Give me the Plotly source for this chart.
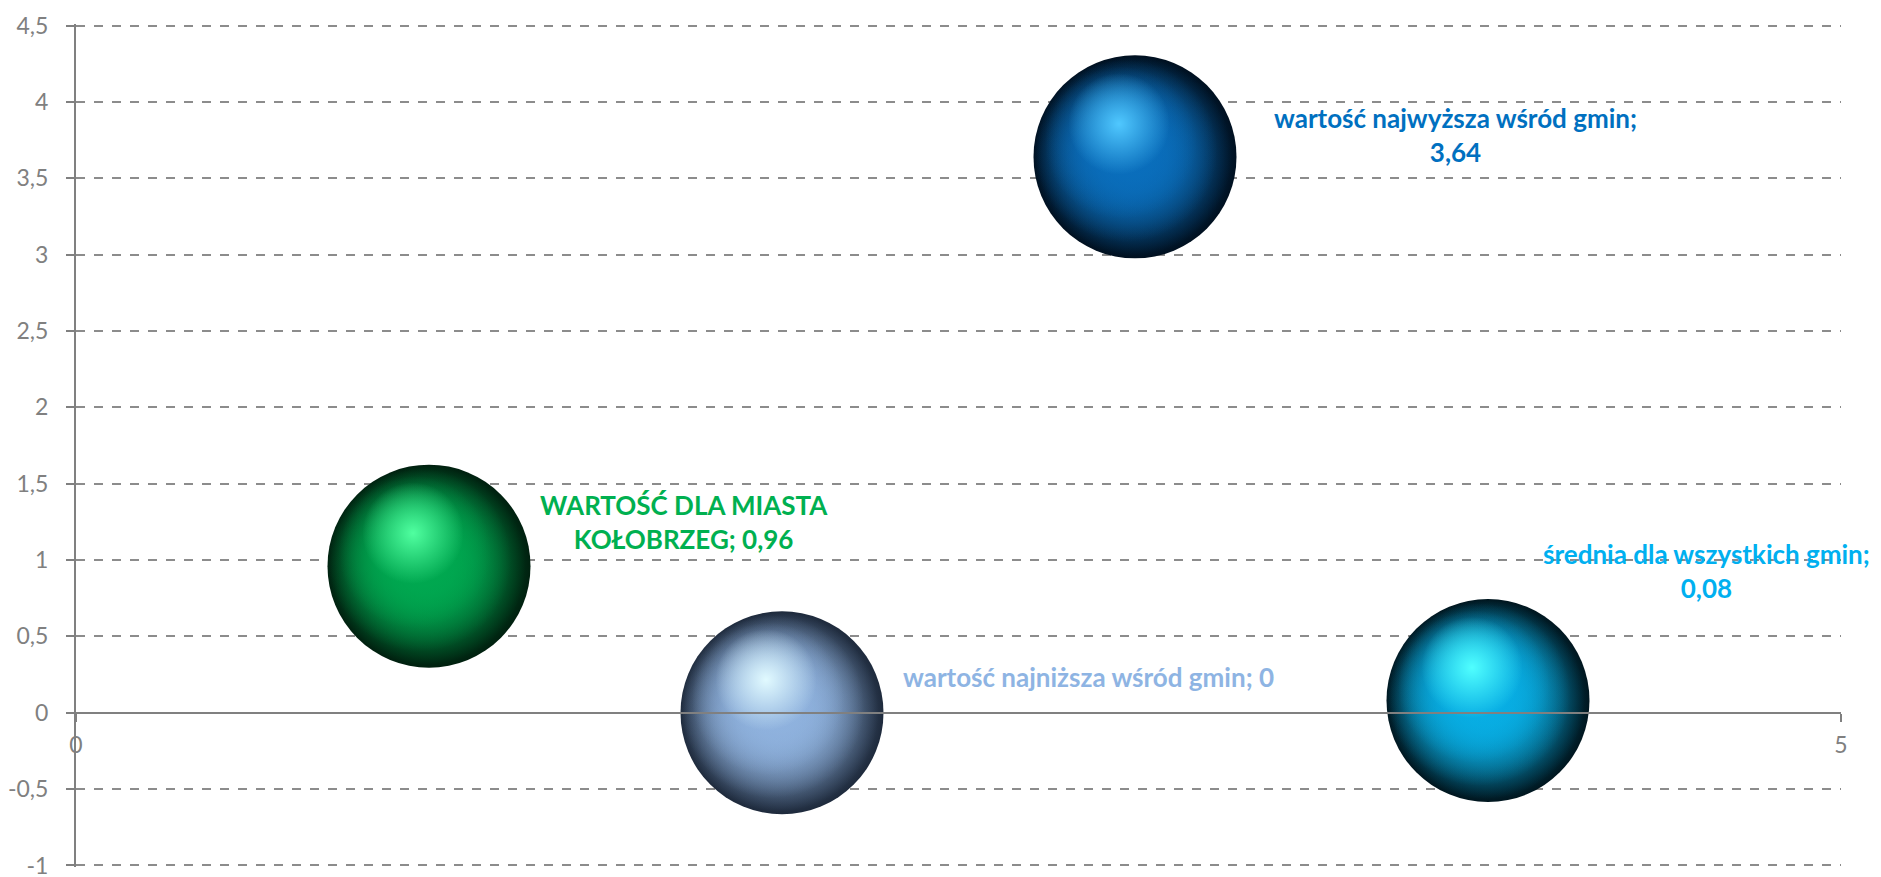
import plotly.graph_objects as go

# ---- data ----
series_names = ["WARTOŚĆ DLA MIASTA KOŁOBRZEG", "wartość najniższa wśród gmin",
                "wartość najwyższa wśród gmin", "średnia dla wszystkich gmin"]
x_vals = [1, 2, 3, 4]
y_vals = [0.96, 0.0, 3.64, 0.08]
bubble_sizes = [1, 1, 1, 1]
label_texts = ["WARTOŚĆ DLA MIASTA<br>KOŁOBRZEG; 0,96",
               "wartość najniższa wśród gmin; 0",
               "wartość najwyższa wśród gmin;<br>3,64",
               "średnia dla wszystkich gmin;<br>0,08"]
y_tick_vals = [-1, -0.5, 0, 0.5, 1, 1.5, 2, 2.5, 3, 3.5, 4, 4.5]
y_tick_labels = ["-1", "-0,5", "0", "0,5", "1", "1,5", "2", "2,5", "3", "3,5", "4", "4,5"]
x_tick_vals = [0, 5]
x_tick_labels = ["0", "5"]

# ---- styles ----
mid_rgb = [(0, 168, 80), (143, 178, 222), (10, 110, 188), (8, 174, 228)]
dark_colors = ["#00200F", "#1E2A3C", "#001020", "#00161F"]
light_rgb = [(80, 255, 160), (225, 250, 255), (80, 200, 255), (80, 255, 255)]
label_colors = ["#00B050", "#8EB4E3", "#0070C0", "#00B0F0"]
label_shift = [(255, 44), (306, 36), (320, 22), (218, 130)]


def rgba(c, a):
    return "rgba(%d,%d,%d,%s)" % (c[0], c[1], c[2], a)


# page body has an 8px default margin: figure is sized so the plot lands where the reference has it
W, H = 1873, 884
m_l, m_r, m_t, m_b = 68, 40, 16, 25
x_range = [0, 5]
y_range = [-1.01, 4.51]
px_x = (W - m_l - m_r) / (x_range[1] - x_range[0])
px_y = (H - m_t - m_b) / (y_range[1] - y_range[0])
diam = 203
# (scale, offset px x, offset px y up, center colour fn, edge colour fn)
layers = [
    (1.0, 0, 0, lambda i: rgba(mid_rgb[i], 1), lambda i: dark_colors[i]),
    (0.98, -3, 1, lambda i: rgba(mid_rgb[i], 1), lambda i: rgba(mid_rgb[i], 0)),
    (0.9, -9, 6, lambda i: rgba(mid_rgb[i], 1), lambda i: rgba(mid_rgb[i], 0)),
    (0.75, -14, 14, lambda i: rgba(mid_rgb[i], 1), lambda i: rgba(mid_rgb[i], 0)),
    (0.5, -16, 33, lambda i: rgba(light_rgb[i], 1), lambda i: rgba(light_rgb[i], 0)),
]

fig = go.Figure()
for i in range(len(x_vals)):
    for (sc, ox, oy, cfn, efn) in layers:
        fig.add_trace(go.Scatter(
            x=[x_vals[i] + ox / px_x], y=[y_vals[i] + oy / px_y], mode="markers",
            name=series_names[i],
            marker=dict(size=[bubble_sizes[i] * sc], sizemode="diameter", sizeref=1 / diam,
                        color=efn(i), opacity=1, line=dict(width=0),
                        gradient=dict(type="radial", color=cfn(i))),
            hoverinfo="skip", showlegend=False, cliponaxis=False))
    fig.add_annotation(x=x_vals[i], y=y_vals[i], text="<b>" + label_texts[i] + "</b>",
                       showarrow=False, xshift=label_shift[i][0], yshift=label_shift[i][1],
                       font=dict(family="Lato", size=26, color=label_colors[i]),
                       align="center")

grey = "#808080"
fig.update_layout(
    width=W, height=H,
    margin=dict(l=m_l, r=m_r, t=m_t, b=m_b),
    paper_bgcolor="white", plot_bgcolor="white",
    font=dict(family="Lato", size=23, color=grey),
    separators=", ",
    xaxis=dict(range=x_range, tickvals=x_tick_vals, ticktext=x_tick_labels,
               showgrid=False, zeroline=False, showline=True, linecolor=grey, linewidth=2,
               ticks="outside", ticklen=8, tickcolor=grey, tickwidth=2, automargin=False,
               anchor="free", position=(0 - y_range[0]) / (y_range[1] - y_range[0]),
               tickfont=dict(color=grey, size=23), ticklabelstandoff=4,
               ticklabeloverflow="allow"),
    yaxis=dict(range=y_range, tickvals=y_tick_vals, ticktext=y_tick_labels,
               showgrid=True, gridcolor="#8C8C8C", gridwidth=1.5, griddash="dash",
               zeroline=False, showline=True, linecolor=grey, linewidth=2, automargin=False,
               ticks="outside", ticklen=8, tickcolor=grey, tickwidth=2,
               tickfont=dict(color=grey, size=23), ticklabelstandoff=13,
               ticklabeloverflow="allow"),
)

fig.write_html("out.html")
